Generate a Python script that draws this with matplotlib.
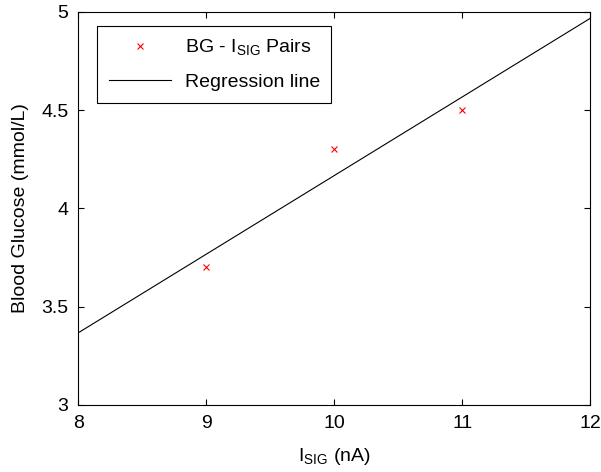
import numpy as np
import matplotlib
matplotlib.use("Agg")
import matplotlib.pyplot as plt

plt.rcParams['font.family'] = ['Liberation Sans', 'DejaVu Sans']

# Datos
i_sig = [9, 10, 11]          # nA
bg = [3.7, 4.3, 4.5]         # mmol/L

# Recta de regresion
pendiente, intercepto = np.polyfit(i_sig, bg, 1)
x_linea = np.array([8, 12])
y_linea = pendiente * x_linea + intercepto

fig = plt.figure(figsize=(6.01, 4.72), dpi=100)
ax = fig.add_axes([0.13, 0.142, 0.852, 0.833])

ax.plot(i_sig, bg, 'x', color='red', markersize=5, markeredgewidth=0.8,
        label=r'BG - I$_{\mathregular{SIG}}$ Pairs')
ax.plot(x_linea, y_linea, '-', color='black', linewidth=0.8, label='Regression line')

ax.set_xlim(8, 12)
ax.set_ylim(3, 5)
ax.set_xticks([8, 9, 10, 11, 12])
ax.set_yticks([3, 3.5, 4, 4.5, 5])
ax.set_yticklabels(['3', '3.5', '4', '4.5', '5'])
ax.tick_params(direction='in', top=True, right=True, labelsize=14, length=4, width=0.8, pad=7)
for s in ax.spines.values():
    s.set_linewidth(0.8)

ax.set_xlabel(r'I$_{\mathregular{SIG}}$ (nA)', fontsize=14, labelpad=10)
ax.set_ylabel('Blood Glucose (mmol/L)', fontsize=14, labelpad=9)

leg = ax.legend(loc='upper left', bbox_to_anchor=(0.037, 0.964), borderaxespad=0,
                fontsize=14, fancybox=False, edgecolor='black', framealpha=1,
                borderpad=0.6, labelspacing=0.8, handlelength=3.2, handletextpad=0.7)
leg.get_frame().set_linewidth(0.8)

fig.savefig('out.png', dpi=100)
